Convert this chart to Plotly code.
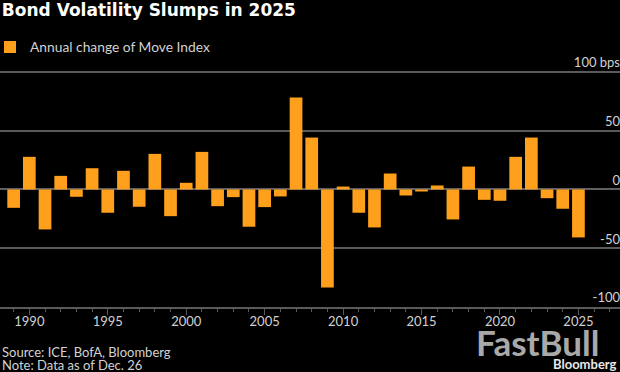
import plotly.graph_objects as go

years = list(range(1989, 2026))
move_change = [-15.6, 27.8, -34.0, 11.6, -6.2, 18.1, -19.8, 15.9, -14.7, 30.3,
               -22.7, 5.7, 32.0, -14.2, -6.5, -31.7, -15.0, -5.9, 78.2, 44.2,
               -83.3, 2.5, -19.8, -32.3, 13.6, -5.1, -1.7, 3.4, -25.5, 19.5,
               -8.8, -9.6, 27.8, 44.2, -7.4, -16.4, -40.8]
y_tickvals = [-100, -50, 0, 50, 100]
y_ticktext = ["-100", "-50", "0", "50", "100 bps"]
x_tickvals = [1990, 1995, 2000, 2005, 2010, 2015, 2020, 2025]

ORANGE = "#FFA01C"
GRID = "#5a5a5a"
TXT = "#d2d2d2"
FONT = "Lato"

fig = go.Figure()
fig.add_trace(go.Bar(x=years, y=move_change, marker_color=ORANGE, marker_line_width=0,
                     width=0.81, name="Annual change of Move Index", showlegend=True))

fig.update_layout(
    width=620, height=372,
    paper_bgcolor="black", plot_bgcolor="black",
    margin=dict(l=0, r=0, t=52, b=65, autoexpand=False),
    font=dict(family=FONT, size=12, color=TXT),
    title=dict(text="<b>Bond Volatility Slumps in 2025</b>", xref="container", yref="container",
               x=0.003, xanchor="left", y=0.99, yanchor="top",
               font=dict(family="DejaVu Sans", size=17, color="white")),
    showlegend=True,
    legend=dict(xref="container", yref="container", x=0, y=0.915, xanchor="left", yanchor="top",
                bgcolor="rgba(0,0,0,0)", font=dict(family=FONT, size=13.8, color=TXT),
                itemwidth=30, indentation=-10),
    bargap=0.19,
    xaxis=dict(range=[1988.13, 2027.65], tickvals=x_tickvals, ticks="outside", ticklen=6,
               tickcolor=GRID, showline=True, linecolor=GRID, linewidth=1.5, showgrid=False,
               zeroline=False, tickfont=dict(family=FONT, size=13, color=TXT),
               ticklabelstandoff=-4, ticklabeloverflow="allow",
               minor=dict(dtick=1, tick0=1989, ticks="outside", ticklen=3, tickcolor=GRID, showgrid=False)),
    yaxis=dict(range=[-100, 117], tickvals=y_tickvals, ticktext=y_ticktext, side="right",
               ticklabelposition="inside top", ticklabelstandoff=-3, ticklabeloverflow="allow",
               showgrid=True, gridcolor=GRID, gridwidth=1.5,
               zeroline=True, zerolinecolor="#606060", zerolinewidth=1.5,
               tickfont=dict(family=FONT, size=13, color=TXT), ticks=""),
)

fig.add_annotation(text="Source: ICE, BofA, Bloomberg", xref="paper", yref="paper",
                   x=0.0, y=-0.2, xanchor="left", yanchor="middle", showarrow=False,
                   font=dict(family=FONT, size=13, color=TXT), yshift=6)
fig.add_annotation(text="Note: Data as of Dec. 26", xref="paper", yref="paper",
                   x=0.0, y=-0.26, xanchor="left", yanchor="middle", showarrow=False,
                   font=dict(family=FONT, size=13, color=TXT), yshift=8)
fig.add_annotation(text="<b>FastBull</b>", xref="paper", yref="paper",
                   x=0.97, y=-0.145, xanchor="right", yanchor="middle", showarrow=False,
                   font=dict(family="Lato", size=35, color="#a9a9a9"), yshift=2)
fig.add_annotation(text="<b>Bloomberg</b>", xref="paper", yref="paper",
                   x=0.998, y=-0.24, xanchor="right", yanchor="middle", showarrow=False,
                   font=dict(family=FONT, size=13, color="#e8e8e8"), yshift=4)

fig.write_html("out.html", config={"displayModeBar": False},
               post_script="document.body.style.margin='0';document.body.style.background='black';")
